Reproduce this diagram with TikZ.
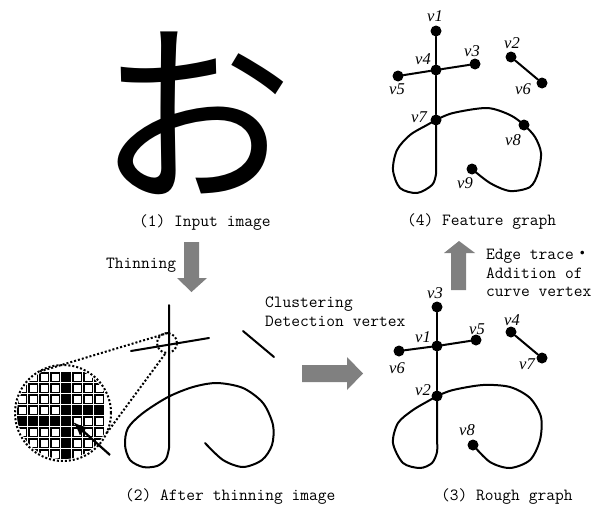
\documentclass[tikz,border=0pt]{standalone}
\usepackage{fontspec}
\setmainfont{Liberation Serif}
\newfontfamily\kanafont{Noto Sans CJK JP}
\usetikzlibrary{arrows.meta}
\definecolor{BlockGray}{RGB}{128,128,128}

\begin{document}
\begin{tikzpicture}[x=1pt, y=-1pt, >=Latex,
    vtx/.style={circle, fill=black, inner sep=0pt, minimum size=11pt},
    vlab/.style={inner sep=0pt, font=\fontsize{16.5}{16.5}\selectfont\itshape},
    caption/.style={inner sep=0pt, anchor=west, align=left,
        font=\fontsize{17}{18.5}\selectfont\ttfamily},
    graphline/.style={line width=2pt, line join=round, line cap=round},
    zoomline/.style={line width=2pt, dash pattern=on 2pt off 2pt},
    pixel/.style={line width=1.5pt}]
    \useasboundingbox (0,0) rectangle (596,506);

    % (1) input image
    \node[inner sep=0pt, text depth=0pt, anchor=base,
        font=\fontsize{196}{196}\kanafont] (kana) at (195,188) {お};
    \node[caption] (cap1) at (139,223) {(1) Input image};

    % block arrows
    \fill[BlockGray] (184,242) -- (199,242) -- (199,278) -- (207,278)
        -- (191.5,292) -- (177,278) -- (184,278) -- cycle;
    \fill[BlockGray] (302,365) -- (347,365) -- (347,357) -- (363,373.5)
        -- (347,390) -- (347,382) -- (302,382) -- cycle;
    \fill[BlockGray] (451,290) -- (451,253) -- (444,253) -- (459,241)
        -- (475,253) -- (466,253) -- (466,290) -- cycle;
    \node[caption] (thinning) at (106,265) {Thinning};
    \node[caption] (cluster) at (265,311.5) {Clustering\\Detection vertex};
    \node[caption] (trace) at (486,273) {Edge trace{\kanafont ・}\\Addition of\\curve vertex};

    % (2) thinned image
    \draw[graphline] (169,305) -- plot[smooth] coordinates {(169,448) (166,459)
        (157,466) (143,467) (130,460) (125,445) (128,428) (143,413) (168,397)
        (193,387) (217,383) (243,388) (263,403) (273,425) (272,445) (262,460)
        (243,467) (223,460) (205,443)};
    \draw[graphline] (131,351) -- (209,338);
    \draw[graphline] (243,331) -- (274,357);

    \draw[zoomline] (167,343) circle[radius=10pt];
    \draw[zoomline] (63,413) circle[radius=48pt];
    \draw[zoomline] (168,333) -- (38,372);
    \draw[zoomline] (165,354) -- (106,434);
    \begin{scope}
        \clip (63,413) circle[radius=46pt];
        \foreach \i in {0,...,7}
            \foreach \j in {0,...,7}
                \draw[pixel, fill=white] ({17.75+11*\i},{372.75+11*\j}) rectangle ++(8.5,8.5);
        \foreach \i/\j in {4/0,4/1,4/2,4/3,5/3,6/3,7/3,0/4,1/4,2/4,3/4,4/4,4/5,4/6,4/7}
            \filldraw[pixel] ({17.75+11*\i},{372.75+11*\j}) rectangle ++(8.5,8.5);
    \end{scope}
    \draw[line width=2.2pt, -{Latex[length=14pt, width=11pt]}] (110,455) -- (73,422);
    \node[caption] (cap2) at (125,497) {(2) After thinning image};

    % (3) rough graph
    \node[vtx] (r1) at (437,346) {};
    \node[vtx] (r2) at (437,396) {};
    \node[vtx] (r3) at (437,307) {};
    \node[vtx] (r4) at (511,332) {};
    \node[vtx] (r5) at (476,340) {};
    \node[vtx] (r6) at (399,351) {};
    \node[vtx] (r7) at (542,358) {};
    \node[vtx] (r8) at (473,445) {};
    \draw[graphline] (r3) -- (r1) -- (r2);
    \draw[graphline] (r6) -- (r1) -- (r5);
    \draw[graphline] (r4) -- (r7);
    \draw[graphline] (r2.center) -- plot[smooth] coordinates {(437,440) (437,452)
        (432,463) (420,468) (403,463) (393,443) (398,423) (413,410) (430,400) (r2.center)};
    \draw[graphline] plot[smooth] coordinates {(r2.center) (453,390) (483,385)
        (510,387) (530,398) (541,417) (540,440) (530,460) (510,468) (490,462) (r8.center)};
    \node[vlab] (r1l) at (423,337) {v1};
    \node[vlab] (r2l) at (423,390) {v2};
    \node[vlab] (r3l) at (435,293) {v3};
    \node[vlab] (r4l) at (512,320) {v4};
    \node[vlab] (r5l) at (477,329) {v5};
    \node[vlab] (r6l) at (397,368) {v6};
    \node[vlab] (r7l) at (527,364) {v7};
    \node[vlab] (r8l) at (467,430) {v8};
    \node[caption] (cap3) at (441,497) {(3) Rough graph};

    % (4) feature graph
    \node[vtx] (f1) at (436,31) {};
    \node[vtx] (f2) at (511,57) {};
    \node[vtx] (f3) at (475,64) {};
    \node[vtx] (f4) at (436,70) {};
    \node[vtx] (f5) at (398,76) {};
    \node[vtx] (f6) at (542,83) {};
    \node[vtx] (f7) at (436,120) {};
    \node[vtx] (f8) at (524,125) {};
    \node[vtx] (f9) at (472,169) {};
    \draw[graphline] (f1) -- (f4) -- (f7);
    \draw[graphline] (f5) -- (f4) -- (f3);
    \draw[graphline] (f2) -- (f6);
    \draw[graphline] (f7.center) -- plot[smooth] coordinates {(436,162) (436,174)
        (432,185) (417,193) (400,188) (393,170) (397,150) (410,135) (427,125) (f7.center)};
    \draw[graphline] plot[smooth] coordinates {(f7.center) (453,113) (487,108)
        (510,115) (f8.center) (535,137) (541,153) (538,173) (530,187) (510,191)
        (490,183) (f9.center)};
    \node[vlab] (f1l) at (435,16) {v1};
    \node[vlab] (f2l) at (512,43) {v2};
    \node[vlab] (f3l) at (472,51) {v3};
    \node[vlab] (f4l) at (423,59) {v4};
    \node[vlab] (f5l) at (397,89) {v5};
    \node[vlab] (f6l) at (523,89) {v6};
    \node[vlab] (f7l) at (419,117) {v7};
    \node[vlab] (f8l) at (513,140) {v8};
    \node[vlab] (f9l) at (465,183) {v9};
    \node[caption] (cap4) at (407,222) {(4) Feature graph};
\end{tikzpicture}
\end{document}
